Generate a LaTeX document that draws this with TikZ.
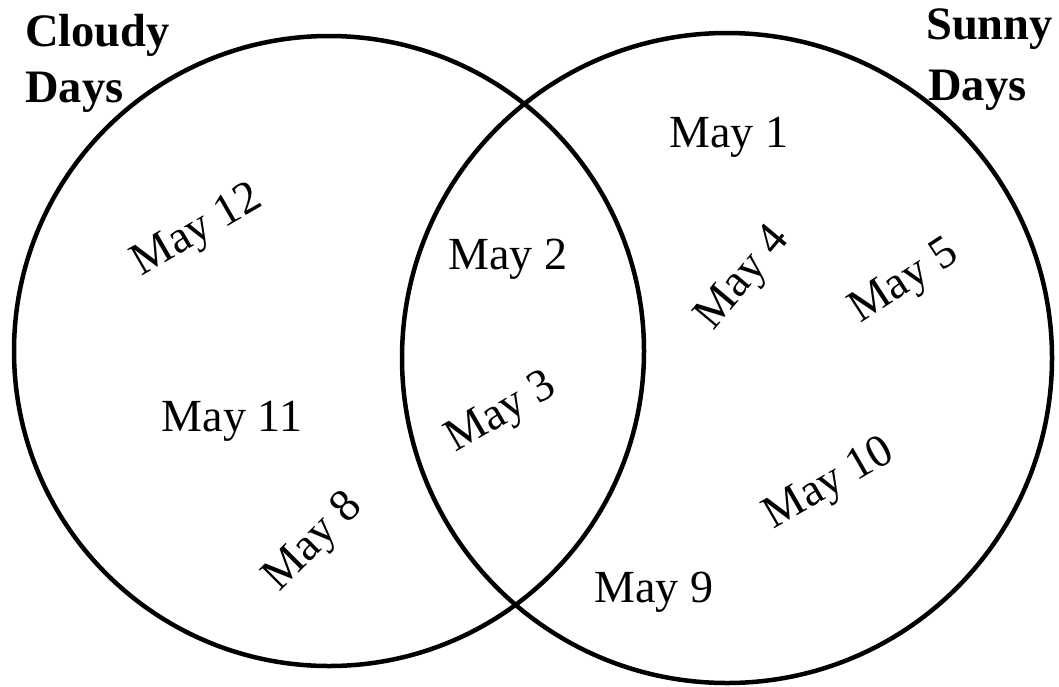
\documentclass[tikz,border=0pt]{standalone}
\usepackage{fontspec}
\setmainfont{Liberation Serif}
\begin{document}
\begin{tikzpicture}[x=1pt,y=-1pt,
  setring/.style={draw, circle, line width=4.5pt, inner sep=0pt, outer sep=0pt},
  day/.style={font=\fontsize{46}{55}\selectfont, inner sep=0pt},
  head/.style={font=\fontsize{46.5}{55}\selectfont\bfseries, inner sep=0pt, anchor=base west}]
\useasboundingbox (0,0) rectangle (1059,686);
\node[setring, minimum size=630pt] (cloudy) at (329,351) {};
\node[setring, minimum size=650pt] (sunny) at (727,358) {};
\node[head] (hc1) at (25,46) {Cloudy};
\node[head] (hc2) at (25,102) {Days};
\node[head] (hs1) at (926,39) {Sunny};
\node[head] (hs2) at (928,100) {Days};
\node[day, anchor=base] (d1) at (729,147) {May 1};
\node[day, anchor=base] (d2) at (508,269) {May 2};
\node[day, anchor=base] (d11) at (232,431) {May 11};
\node[day, anchor=base] (d9) at (654,602) {May 9};
\node[day, rotate=30] (d12) at (198,232) {May 12};
\node[day, rotate=50] (d4) at (744,279) {May 4};
\node[day, rotate=33] (d5) at (905,283) {May 5};
\node[day, rotate=30] (d3) at (502,414) {May 3};
\node[day, rotate=45] (d8) at (314,543) {May 8};
\node[day, rotate=30] (d10) at (830,485) {May 10};
\end{tikzpicture}
\end{document}
